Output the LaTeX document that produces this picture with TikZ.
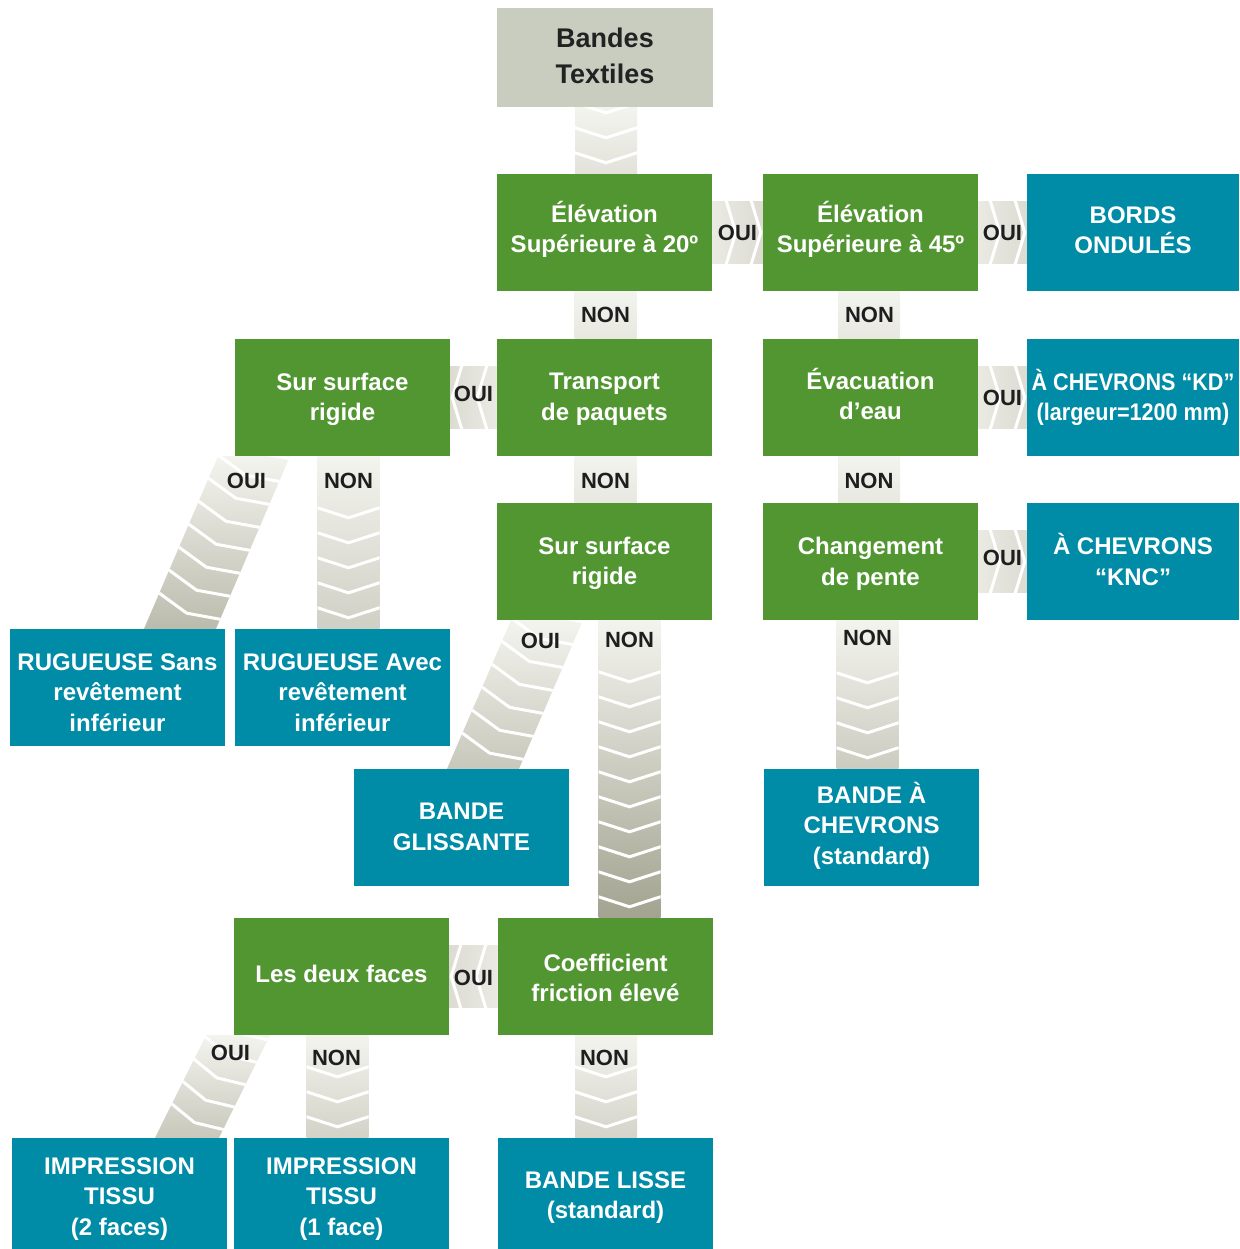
\documentclass[tikz,border=0pt]{standalone}
\usepackage{fontspec}
\setmainfont{Liberation Sans}
\newfontfamily\condfont[FakeStretch=0.9]{Liberation Sans}
\usetikzlibrary{calc}
\definecolor{boxgreen}{HTML}{529632}
\definecolor{boxteal}{HTML}{008BA6}
\definecolor{boxgray}{HTML}{C9CDC0}
\definecolor{bandlight}{HTML}{F4F4EF}
\definecolor{banddark}{HTML}{A3A391}
\definecolor{labeltext}{HTML}{1E1E1E}
\definecolor{titletext}{HTML}{222222}
\newcommand\txtup[1]{\rule[-#1pt]{0pt}{0pt}}
\newcommand\txtdown[1]{\rule{0pt}{#1pt}}
\tikzset{
  box/.style={minimum width=215pt, minimum height=117pt, inner sep=0pt, align=center,
    text=white, font=\fontsize{24}{30.5}\selectfont\bfseries},
  greenbox/.style={box, fill=boxgreen},
  tealbox/.style={box, fill=boxteal},
  titlebox/.style={box, fill=boxgray, minimum width=216pt, minimum height=99pt,
    text=titletext, font=\fontsize{27}{36}\selectfont\bfseries},
  lbl/.style={text=labeltext, font=\fontsize{22}{22}\selectfont\bfseries, inner sep=0pt},
  chev/.style={draw=white, line width=3pt},
}
% vertical band: #1 from node, #2 to node, #3 x offset, #4 darkness, #5 top clearance
\newcommand\vband[5]{%
  \path (#1.south); \pgfgetlastxy{\cbx}{\cby}%
  \path (#2.north); \pgfgetlastxy{\cbxx}{\cbyy}%
  \pgfmathsetmacro\cblen{\cby-(\cbyy)}%
  \pgfmathsetmacro\cbxc{\cbx+(#3)}%
  \pgfmathsetmacro\cbyc{\cbyy}%
  \pgfmathtruncatemacro\cbn{floor((\cblen-11-#5)/25)}%
  \begin{scope}[shift={(\cbxc pt,\cbyc pt)}]
    \clip (-31,0) rectangle (31,-\cblen);
    \shade[top color=bandlight,bottom color=banddark!#4!bandlight] (-31,0) rectangle (31,-\cblen);
    \ifnum\cbn<0\else
      \foreach \k in {0,...,\cbn}
        \draw[chev] (-34,{-22-25*\k}) -- (0,{-11-25*\k}) -- (34,{-22-25*\k});
    \fi
  \end{scope}}
% horizontal band: #1 start anchor, #2 end anchor, #3 darkness
\newcommand\hband[3]{%
  \path (#1); \pgfgetlastxy{\cbx}{\cby}%
  \path (#2); \pgfgetlastxy{\cbxx}{\cbyy}%
  \pgfmathsetmacro\csx{\cbx}%
  \pgfmathsetmacro\cex{\cbxx}%
  \pgfmathsetmacro\ccy{\cby}%
  \pgfmathsetmacro\cdir{\cex>\csx ? 1 : -1}%
  \ifdim\cdir pt>0pt
    \tikzset{hshade/.style={left color=banddark!12!bandlight,right color=banddark!#3!bandlight}}%
  \else
    \tikzset{hshade/.style={right color=banddark!12!bandlight,left color=banddark!#3!bandlight}}%
  \fi
  \begin{scope}
    \clip (\csx pt,\ccy pt-31pt) rectangle (\cex pt,\ccy pt+31pt);
    \shade[hshade] (\csx pt,\ccy pt-31pt) rectangle (\cex pt,\ccy pt+31pt);
    \begin{scope}[shift={(\cex pt,\ccy pt)},xscale=\cdir]
      \foreach \k in {0,1,2}
        \draw[chev] ({-12-25*\k},-33) -- ({-2-25*\k},0) -- ({-12-25*\k},33);
    \end{scope}
  \end{scope}}
% diagonal band: #1 from, #2 to, #3 top x offset, #4 bottom x offset, #5 half width, #6 darkness
\newcommand\dband[6]{%
  \path (#1.south); \pgfgetlastxy{\cbx}{\cby}%
  \path (#2.north); \pgfgetlastxy{\cbxx}{\cbyy}%
  \pgfmathsetmacro\ctx{\cbx+(#3)}%
  \pgfmathsetmacro\cbxb{\cbxx+(#4)}%
  \pgfmathsetmacro\cty{\cby}%
  \pgfmathsetmacro\cbyb{\cbyy}%
  \pgfmathsetmacro\cang{atan2(\cbxb-\ctx,\cty-\cbyb)}%
  \pgfmathsetmacro\clen{veclen(\cbxb-\ctx,\cty-\cbyb)}%
  \begin{scope}
    \clip (\ctx pt-#5pt,\cty pt) -- (\ctx pt+#5pt,\cty pt) -- (\cbxb pt+#5pt,\cbyb pt) -- (\cbxb pt-#5pt,\cbyb pt) -- cycle;
    \shade[top color=bandlight,bottom color=banddark!#6!bandlight]
      (\cbxb pt-#5pt-10pt,\cbyb pt) rectangle (\ctx pt+#5pt+10pt,\cty pt);
    \begin{scope}[shift={(\ctx pt,\cty pt)},rotate=\cang]
      \foreach \k in {0,...,9}
        \draw[chev] (-48,{\clen-28-25*\k}) -- (0,{\clen-17-25*\k}) -- (48,{\clen-28-25*\k});
    \end{scope}
  \end{scope}}

\begin{document}
\begin{tikzpicture}[x=1pt,y=-1pt]
\useasboundingbox (0,0) rectangle (1239,1249);
% boxes
\node[titlebox] (title) at (605,57.5) {Bandes\\Textiles\txtup{4}};
\node[greenbox] (e20) at (604.5,232.5) {Élévation\\Supérieure à 20º\txtup{11}};
\node[greenbox] (e45) at (870.5,232.5) {Élévation\\Supérieure à 45º\txtup{11}};
\node[tealbox,minimum width=212pt] (bords) at (1133,232.5) {BORDS\\ONDULÉS\txtup{5}};
\node[greenbox] (ssrL) at (342.5,397.5) {\txtdown{21.5}Sur surface\\rigide};
\node[greenbox] (transp) at (604.5,397.5) {\txtdown{19.5}Transport\\de paquets};
\node[greenbox] (evac) at (870.5,397.5) {Évacuation\\d’eau\txtup{7}};
\node[tealbox,minimum width=212pt,font=\condfont\fontsize{24}{30.5}\selectfont\bfseries] (kd) at (1133,397.5) {À CHEVRONS “KD”\\(largeur=1200 mm)};
\node[greenbox] (ssrM) at (604.5,561.5) {\txtdown{21.5}Sur surface\\rigide};
\node[greenbox] (chg) at (870.5,561.5) {\txtdown{21.5}Changement\\de pente};
\node[tealbox,minimum width=212pt] (knc) at (1133,561.5) {À CHEVRONS\\“KNC”\txtup{4}};
\node[tealbox] (rugS) at (117.5,687.5) {\txtdown{27}RUGUEUSE Sans\\revêtement\\inférieur};
\node[tealbox] (rugA) at (342.5,687.5) {\txtdown{27}RUGUEUSE Avec\\revêtement\\inférieur};
\node[tealbox] (gliss) at (461.5,827.5) {BANDE\\GLISSANTE\txtup{2}};
\node[tealbox] (bchev) at (871.5,827.5) {BANDE À\\CHEVRONS\\(standard)\txtup{9}};
\node[greenbox] (deux) at (341.5,976.5) {Les deux faces\txtup{6}};
\node[greenbox] (coef) at (605.5,976.5) {\txtdown{20.5}Coefficient\\friction élevé};
\node[tealbox,minimum height=111pt] (imp2) at (119.5,1193.5) {\txtdown{27}IMPRESSION\\TISSU\\(2 faces)};
\node[tealbox,minimum height=111pt] (imp1) at (341.5,1193.5) {\txtdown{27}IMPRESSION\\TISSU\\(1 face)};
\node[tealbox,minimum height=111pt] (lisse) at (605.5,1193.5) {\txtdown{25}BANDE LISSE\\(standard)};
% vertical bands
\vband{title}{e20}{1}{22}{0}
\vband{e20}{transp}{1}{15}{40}
\vband{e45}{evac}{-1.5}{15}{40}
\vband{transp}{ssrM}{1}{15}{40}
\vband{evac}{chg}{-1.5}{15}{40}
\vband{ssrL}{rugA}{6}{45}{40}
\vband{ssrM}{coef}{25}{100}{40}
\vband{chg}{bchev}{-3}{50}{38}
\vband{deux}{imp1}{-4}{42}{40}
\vband{coef}{lisse}{0.5}{40}{40}
% horizontal bands
\hband{e20.east}{e45.west}{30}
\hband{e45.east}{bords.west}{30}
\hband{transp.west}{ssrL.east}{30}
\hband{evac.east}{kd.west}{30}
\hband{chg.east}{knc.west}{30}
\hband{coef.west}{deux.east}{30}
% diagonal bands
\dband{ssrL}{rugS}{-88.5}{62.5}{36}{70}
\dband{ssrM}{gliss}{-57.5}{21.5}{36}{55}
\dband{deux}{imp2}{-103.5}{67.5}{32}{55}
% labels
\node[lbl] (l1) at ($(e20.south)+(1,24)$) {NON};
\node[lbl] (l2) at ($(e45.south)+(-1,24)$) {NON};
\node[lbl] (l3) at ($(transp.south)+(1,25)$) {NON};
\node[lbl] (l4) at ($(evac.south)+(-1.5,25)$) {NON};
\node[lbl] (l5) at ($(ssrL.south)+(6,25)$) {NON};
\node[lbl] (l6) at ($(ssrM.south)+(25,20)$) {NON};
\node[lbl] (l7) at ($(chg.south)+(-3,18)$) {NON};
\node[lbl] (l8) at ($(deux.south)+(-5,23)$) {NON};
\node[lbl] (l9) at ($(coef.south)+(-1,23)$) {NON};
\node[lbl] (o1) at ($(e20.east)!0.5!(e45.west)$) {OUI};
\node[lbl] (o2) at ($(e45.east)!0.5!(bords.west)$) {OUI};
\node[lbl] (o3) at ($(transp.west)!0.5!(ssrL.east)+(0,-4)$) {OUI};
\node[lbl] (o4) at ($(evac.east)!0.5!(kd.west)$) {OUI};
\node[lbl] (o5) at ($(chg.east)!0.5!(knc.west)+(0,-4)$) {OUI};
\node[lbl] (o6) at ($(coef.west)!0.5!(deux.east)+(0,1)$) {OUI};
\node[lbl] (o7) at ($(ssrL.south)+(-96,25)$) {OUI};
\node[lbl] (o8) at ($(ssrM.south)+(-64,21)$) {OUI};
\node[lbl] (o9) at ($(deux.south)+(-111,18)$) {OUI};
\end{tikzpicture}
\end{document}
